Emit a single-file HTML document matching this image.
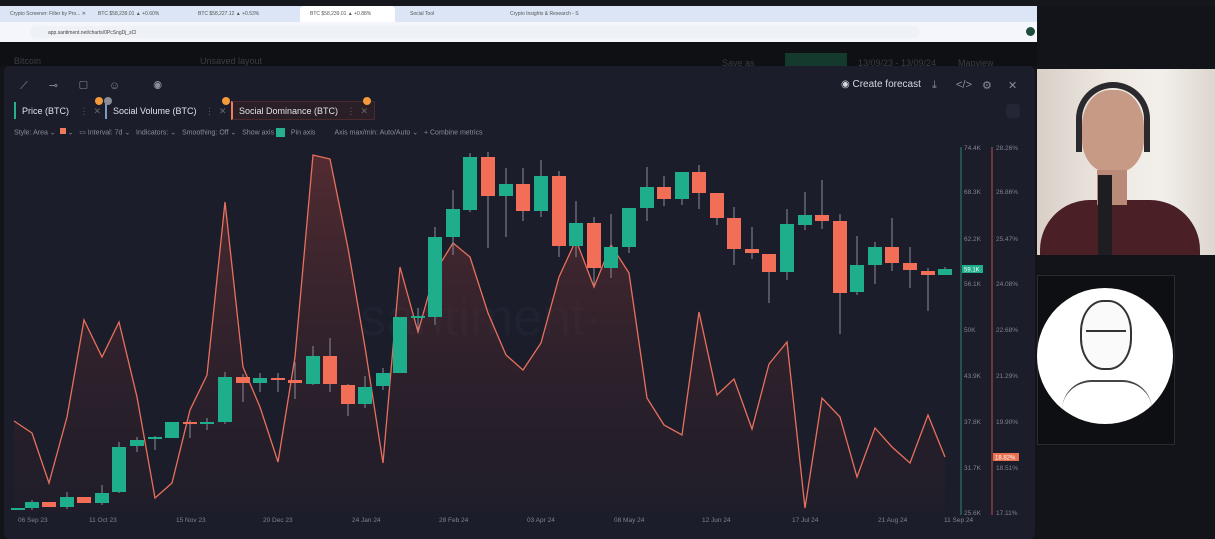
<!DOCTYPE html>
<html><head><meta charset="utf-8"><style>
*{margin:0;padding:0;box-sizing:border-box}
body{width:1215px;height:539px;overflow:hidden;background:#131419;font-family:"Liberation Sans",sans-serif;position:relative}
.abs{position:absolute}
.tab{white-space:nowrap;font-size:9px;color:#e0e2ea;padding:4px 6px;height:17px}
.ic{position:absolute;top:79px;font-size:11px;color:#8a8d9a}
</style></head><body>
<div class="abs" style="left:0;top:0;width:1215px;height:6px;background:#16171c"></div>
<div class="abs" style="left:0;top:6px;width:1037px;height:16px;background:#dbe5f5;font-size:5px;color:#555">
 <span class="abs" style="left:10px;top:5px">Crypto Screener: Filter by Pro... ✕</span>
 <span class="abs" style="left:98px;top:5px">BTC $58,239.01 ▲ +0.60%</span>
 <span class="abs" style="left:198px;top:5px">BTC $58,227.12 ▲ +0.53%</span>
 <div class="abs" style="left:300px;top:0;width:95px;height:16px;background:#fff;border-radius:4px 4px 0 0"></div>
 <span class="abs" style="left:310px;top:5px">BTC $58,239.01 ▲ +0.88%</span>
 <span class="abs" style="left:410px;top:5px">Social Tool</span>
 <span class="abs" style="left:510px;top:5px">Crypto Insights &amp; Research - S</span>
</div>
<div class="abs" style="left:0;top:22px;width:1037px;height:20px;background:#f4f6fb;font-size:5px;color:#444">
 <div class="abs" style="left:30px;top:4px;width:890px;height:12px;background:#eef1f6;border-radius:6px"></div>
 <span class="abs" style="left:48px;top:8px">app.santiment.net/charts/0PcSngDj_sCl</span>
 <div class="abs" style="left:1026px;top:5px;width:9px;height:9px;border-radius:50%;background:#1d4d3a"></div>
</div>
<div class="abs" style="left:0;top:42px;width:1037px;height:24px;background:#0f1014;font-size:9px;color:#3a3c45">
 <span class="abs" style="left:14px;top:14px">Bitcoin</span>
 <span class="abs" style="left:200px;top:14px">Unsaved layout</span>
 <span class="abs" style="left:722px;top:16px">Save as</span>
 <div class="abs" style="left:785px;top:11px;width:62px;height:14px;background:#143a2e"></div>
 <span class="abs" style="left:858px;top:16px">13/09/23 - 13/09/24</span>
 <span class="abs" style="left:958px;top:16px">Mapview</span>
</div>
<div class="abs" style="left:4px;top:66px;width:1031px;height:473px;background:#1b1d2a;border-radius:6px"></div>
<div class="abs" style="left:1037px;top:42px;width:178px;height:497px;background:#131419"></div>
<!-- toolbar -->
<div class="abs" style="left:20px;top:79px;font-size:11px;color:#8a8d9a;letter-spacing:9px;white-space:nowrap">⟋ ⊸ ▢ ☺ &nbsp;◉</div>
<div class="abs" style="left:841px;top:79px;font-size:10px;color:#d6d8e0;white-space:nowrap">◉ Create forecast</div>
<span class="ic" style="left:932px">⤓</span>
<span class="ic" style="left:956px">&lt;/&gt;</span>
<span class="ic" style="left:982px">⚙</span>
<span class="ic" style="left:1008px">✕</span>
<div class="abs" style="left:1006px;top:104px;width:14px;height:14px;background:#232635;border-radius:3px"></div>
<!-- metric tabs -->
<div class="abs tab" style="left:14px;top:102px;border-left:2px solid #26b08f">Price (BTC) <span style="color:#666;margin-left:8px">⋮ &nbsp;✕</span></div>
<div class="abs tab" style="left:105px;top:102px;border-left:2px solid #7f9ac0">Social Volume (BTC) <span style="color:#666;margin-left:6px">⋮ &nbsp;✕</span></div>
<div class="abs tab" style="left:231px;top:101px;height:19px;border:1px solid #4a2a2d;border-left:2px solid #f07b5c;background:#2a1f27">Social Dominance (BTC) <span style="color:#666;margin-left:6px">⋮ &nbsp;✕</span></div>
<div class="abs" style="left:95px;top:97px;width:8px;height:8px;border-radius:50%;background:#f39a3a"></div>
<div class="abs" style="left:104px;top:97px;width:8px;height:8px;border-radius:50%;background:#8a8c95"></div>
<div class="abs" style="left:222px;top:97px;width:8px;height:8px;border-radius:50%;background:#f39a3a"></div>
<div class="abs" style="left:363px;top:97px;width:8px;height:8px;border-radius:50%;background:#f39a3a"></div>
<div class="abs" style="left:14px;top:128px;font-size:7px;color:#8a8d9a;white-space:nowrap">Style: Area ⌄ &nbsp;<span style="display:inline-block;width:6px;height:6px;background:#f07b5c"></span> ⌄ &nbsp;&nbsp;▭ Interval: 7d ⌄ &nbsp; Indicators: ⌄ &nbsp; Smoothing: Off ⌄ &nbsp; Show axis <span style="display:inline-block;width:9px;height:9px;background:#26b08f;vertical-align:middle"></span> &nbsp; Pin axis &nbsp;&nbsp;&nbsp;&nbsp;&nbsp;&nbsp;&nbsp;&nbsp; Axis max/min: Auto/Auto ⌄ &nbsp; + Combine metrics</div>
<!-- chart -->
<svg class="abs" style="left:0;top:0" width="1037" height="539">
<defs><linearGradient id="g" x1="0" y1="0" x2="0" y2="1"><stop offset="0" stop-color="#8a3a38" stop-opacity=".5"/><stop offset="1" stop-color="#3a1f28" stop-opacity=".15"/></linearGradient></defs>
<text x="360" y="335" font-size="52" fill="#1f2231" font-family="Liberation Sans">santiment·</text>
<path d="M14,421 L32,433 L49,483 L67,417 L84,320 L102,357 L119,322 L137,397 L155,498 L172,483 L190,410 L207,375 L225,202 L243,367 L260,407 L278,462 L295,357 L313,155 L330,159 L348,248 L365,347 L383,463 L400,267 L418,332 L435,272 L453,243 L470,257 L488,313 L506,355 L523,370 L541,343 L559,277 L576,240 L594,287 L611,245 L629,273 L647,398 L664,425 L682,435 L699,312 L717,395 L734,379 L752,429 L769,364 L787,342 L805,508 L822,398 L840,417 L857,477 L875,428 L892,447 L910,463 L928,415 L945,457 L945,512 L14,512 Z" fill="url(#g)"/>
<path d="M14,421 L32,433 L49,483 L67,417 L84,320 L102,357 L119,322 L137,397 L155,498 L172,483 L190,410 L207,375 L225,202 L243,367 L260,407 L278,462 L295,357 L313,155 L330,159 L348,248 L365,347 L383,463 L400,267 L418,332 L435,272 L453,243 L470,257 L488,313 L506,355 L523,370 L541,343 L559,277 L576,240 L594,287 L611,245 L629,273 L647,398 L664,425 L682,435 L699,312 L717,395 L734,379 L752,429 L769,364 L787,342 L805,508 L822,398 L840,417 L857,477 L875,428 L892,447 L910,463 L928,415 L945,457" fill="none" stroke="#e8705c" stroke-width="1.3"/>
<g stroke="#8a8d9a" stroke-width="1">
<line x1="32" y1="500" x2="32" y2="510"/><line x1="67" y1="492" x2="67" y2="509"/><line x1="102" y1="485" x2="102" y2="505"/><line x1="119" y1="442" x2="119" y2="493"/><line x1="137" y1="437" x2="137" y2="452"/><line x1="155" y1="436" x2="155" y2="450"/><line x1="190" y1="420" x2="190" y2="438"/><line x1="207" y1="418" x2="207" y2="430"/><line x1="225" y1="372" x2="225" y2="424"/><line x1="243" y1="374" x2="243" y2="402"/><line x1="260" y1="373" x2="260" y2="392"/><line x1="278" y1="373" x2="278" y2="392"/><line x1="295" y1="362" x2="295" y2="399"/><line x1="313" y1="346" x2="313" y2="385"/><line x1="330" y1="338" x2="330" y2="392"/><line x1="348" y1="384" x2="348" y2="416"/><line x1="365" y1="376" x2="365" y2="408"/><line x1="383" y1="368" x2="383" y2="390"/><line x1="418" y1="308" x2="418" y2="330"/><line x1="435" y1="227" x2="435" y2="325"/><line x1="453" y1="190" x2="453" y2="255"/><line x1="470" y1="153" x2="470" y2="212"/>
<line x1="488" y1="152" x2="488" y2="248"/><line x1="506" y1="168" x2="506" y2="237"/><line x1="523" y1="168" x2="523" y2="221"/><line x1="541" y1="160" x2="541" y2="217"/><line x1="559" y1="171" x2="559" y2="257"/><line x1="576" y1="201" x2="576" y2="257"/><line x1="594" y1="217" x2="594" y2="285"/><line x1="611" y1="214" x2="611" y2="278"/><line x1="629" y1="208" x2="629" y2="253"/><line x1="647" y1="167" x2="647" y2="221"/><line x1="664" y1="176" x2="664" y2="206"/><line x1="682" y1="172" x2="682" y2="205"/><line x1="699" y1="165" x2="699" y2="209"/><line x1="717" y1="193" x2="717" y2="225"/><line x1="734" y1="207" x2="734" y2="265"/><line x1="752" y1="227" x2="752" y2="259"/><line x1="769" y1="254" x2="769" y2="303"/><line x1="787" y1="209" x2="787" y2="280"/><line x1="805" y1="192" x2="805" y2="230"/><line x1="822" y1="180" x2="822" y2="229"/><line x1="840" y1="214" x2="840" y2="334"/><line x1="857" y1="236" x2="857" y2="295"/><line x1="875" y1="242" x2="875" y2="284"/><line x1="892" y1="218" x2="892" y2="271"/><line x1="910" y1="247" x2="910" y2="288"/><line x1="928" y1="268" x2="928" y2="311"/><line x1="945" y1="267" x2="945" y2="275"/>
</g>
<g fill="#1fae8b">
<rect x="11" y="508" width="14" height="2"/><rect x="25" y="502" width="14" height="6"/><rect x="60" y="497" width="14" height="10"/><rect x="95" y="493" width="14" height="10"/><rect x="112" y="447" width="14" height="45"/><rect x="130" y="440" width="14" height="6"/><rect x="148" y="437" width="14" height="2"/><rect x="165" y="422" width="14" height="16"/><rect x="200" y="422" width="14" height="2"/><rect x="218" y="377" width="14" height="45"/><rect x="253" y="378" width="14" height="5"/><rect x="306" y="356" width="14" height="28"/><rect x="358" y="387" width="14" height="17"/><rect x="376" y="373" width="14" height="13"/><rect x="393" y="317" width="14" height="56"/><rect x="411" y="316" width="14" height="2"/><rect x="428" y="237" width="14" height="80"/><rect x="446" y="209" width="14" height="28"/><rect x="463" y="157" width="14" height="53"/>
<rect x="499" y="184" width="14" height="12"/><rect x="534" y="176" width="14" height="35"/><rect x="569" y="223" width="14" height="23"/><rect x="604" y="247" width="14" height="21"/><rect x="622" y="208" width="14" height="39"/><rect x="640" y="187" width="14" height="21"/><rect x="675" y="172" width="14" height="27"/><rect x="780" y="224" width="14" height="48"/><rect x="798" y="215" width="14" height="10"/><rect x="850" y="265" width="14" height="27"/><rect x="868" y="247" width="14" height="18"/><rect x="938" y="269" width="14" height="6"/>
</g>
<g fill="#f36e56">
<rect x="42" y="502" width="14" height="5"/><rect x="77" y="497" width="14" height="6"/><rect x="183" y="422" width="14" height="2"/><rect x="236" y="377" width="14" height="6"/><rect x="271" y="378" width="14" height="2"/><rect x="288" y="380" width="14" height="3"/><rect x="323" y="356" width="14" height="28"/><rect x="341" y="385" width="14" height="19"/>
<rect x="481" y="157" width="14" height="39"/><rect x="516" y="184" width="14" height="27"/><rect x="552" y="176" width="14" height="70"/><rect x="587" y="223" width="14" height="45"/><rect x="657" y="187" width="14" height="12"/><rect x="692" y="172" width="14" height="21"/><rect x="710" y="193" width="14" height="25"/><rect x="727" y="218" width="14" height="31"/><rect x="745" y="249" width="14" height="4"/><rect x="762" y="254" width="14" height="18"/><rect x="815" y="215" width="14" height="6"/><rect x="833" y="221" width="14" height="72"/><rect x="885" y="247" width="14" height="16"/><rect x="903" y="263" width="14" height="7"/><rect x="921" y="271" width="14" height="4"/>
</g>
<line x1="961" y1="147" x2="961" y2="515" stroke="#2a8c6f" stroke-width="1"/>
<line x1="992" y1="147" x2="992" y2="515" stroke="#b5524a" stroke-width="1"/>
<g font-size="6.5" fill="#7f828f" font-family="Liberation Sans">
<text x="964" y="150">74.4K</text><text x="964" y="194">68.3K</text><text x="964" y="241">62.2K</text><text x="964" y="286">56.1K</text><text x="964" y="332">50K</text><text x="964" y="378">43.9K</text><text x="964" y="424">37.8K</text><text x="964" y="470">31.7K</text><text x="964" y="515">25.6K</text>
<text x="996" y="150">28.26%</text><text x="996" y="194">26.86%</text><text x="996" y="241">25.47%</text><text x="996" y="286">24.08%</text><text x="996" y="332">22.68%</text><text x="996" y="378">21.29%</text><text x="996" y="424">19.90%</text><text x="996" y="470">18.51%</text><text x="996" y="515">17.11%</text>
<text x="18" y="522">06 Sep 23</text><text x="89" y="522">11 Oct 23</text><text x="176" y="522">15 Nov 23</text><text x="263" y="522">20 Dec 23</text><text x="352" y="522">24 Jan 24</text><text x="439" y="522">28 Feb 24</text><text x="527" y="522">03 Apr 24</text><text x="614" y="522">08 May 24</text><text x="702" y="522">12 Jun 24</text><text x="792" y="522">17 Jul 24</text><text x="878" y="522">21 Aug 24</text><text x="944" y="522">11 Sep 24</text>
</g>
<rect x="962" y="265" width="21" height="8" fill="#1fae8b"/><text x="964" y="271.5" font-size="6" fill="#fff" font-family="Liberation Sans">59.1K</text>
<rect x="993" y="453" width="26" height="8" fill="#e8704f"/><text x="995" y="459.5" font-size="6" fill="#fff" font-family="Liberation Sans">18.82%</text>
</svg>
<!-- webcam -->
<div class="abs" style="left:1037px;top:69px;width:178px;height:186px;background:linear-gradient(90deg,#d8cfc6,#eee8e2 40%,#f2efea 70%,#ddd6cf)"></div>
<div class="abs" style="left:1040px;top:200px;width:160px;height:55px;border-radius:50px 50px 0 0;background:#4a1f25"></div>
<div class="abs" style="left:1082px;top:90px;width:62px;height:82px;border-radius:45% 45% 40% 40%;background:#c79a86"></div>
<div class="abs" style="left:1097px;top:170px;width:30px;height:35px;background:#b98a78"></div>
<div class="abs" style="left:1076px;top:82px;width:74px;height:70px;border:6px solid #2a2a2e;border-bottom:none;border-radius:40px 40px 0 0"></div>
<div class="abs" style="left:1098px;top:175px;width:14px;height:80px;background:#1d1d22"></div>
<!-- sketch -->
<div class="abs" style="left:1037px;top:275px;width:138px;height:170px;background:#0e0f12;border:1px solid #2a2b30"></div>
<div class="abs" style="left:1037px;top:288px;width:136px;height:136px;border-radius:50%;background:#fff"></div>
<div class="abs" style="left:1080px;top:300px;width:52px;height:70px;border:2px solid #333;border-radius:45%;background:#fafafa"></div>
<div class="abs" style="left:1062px;top:380px;width:90px;height:44px;border-top:2px solid #444;border-radius:30px 30px 0 0"></div>
<div class="abs" style="left:1086px;top:330px;width:40px;height:8px;border-top:2px solid #333"></div>
</body></html>
